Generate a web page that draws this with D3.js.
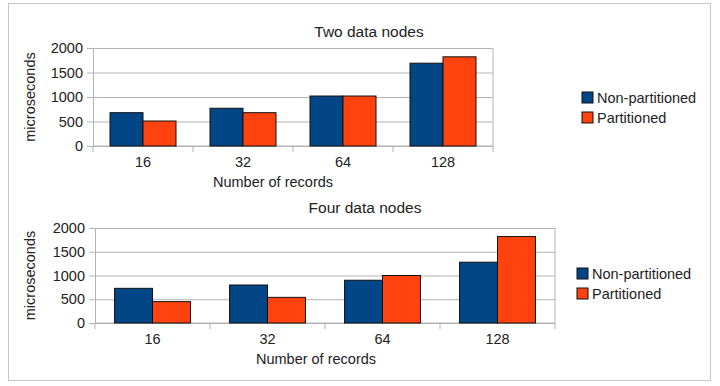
<html>
<head>
    <script src="https://d3js.org/d3.v7.min.js"></script>
    <style>
        body { margin: 0; background: #fff; }
        text { font-family: "Liberation Sans", Arial, sans-serif; fill: #222; }
        .gridlines line { stroke: #b3b3b3; }
        .gridlines .domain { stroke: none; }
    </style>
</head>
<body>
<svg id="chartArea" width="720" height="386"></svg>
<script>
    // data
    const categories = ["16", "32", "64", "128"];
    const seriesNames = ["Non-partitioned", "Partitioned"];
    const twoNodesNonPart = [680, 770, 1020, 1690];
    const twoNodesPart = [510, 680, 1020, 1820];
    const fourNodesNonPart = [730, 800, 900, 1280];
    const fourNodesPart = [450, 540, 1000, 1820];
    const yTicks = [0, 500, 1000, 1500, 2000];
    const colors = ["#004586", "#ff420e"];

    const svg = d3.select("#chartArea");

    // outer frame
    svg.append("rect")
        .attr("x", 8.5).attr("y", 3.5)
        .attr("width", 702).attr("height", 377)
        .attr("fill", "none").attr("stroke", "#c8c8c8");

    const colorScale = d3.scaleOrdinal().domain(seriesNames).range(colors);

    function drawChart(opts) {
        const rows = categories.map((c, i) => ({
            cat: c,
            values: [
                { name: seriesNames[0], value: opts.a[i] },
                { name: seriesNames[1], value: opts.b[i] }
            ]
        }));

        const g = svg.append("g")
            .attr("transform", `translate(${opts.left},${opts.top})`);

        const x = d3.scaleBand().domain(categories).range([0, opts.width]);
        const pad = x.bandwidth() * 0.17;
        const xs = d3.scaleBand().domain(seriesNames).range([pad, x.bandwidth() - pad]);
        const y = d3.scaleLinear().domain([0, 2000]).range([opts.height, 0]);

        // gridlines
        g.append("g")
            .attr("class", "gridlines")
            .call(d3.axisLeft(y).tickValues(yTicks).tickFormat("").tickSize(-opts.width));

        // right border of plot area
        g.append("line")
            .attr("x1", opts.width).attr("x2", opts.width)
            .attr("y1", 0).attr("y2", opts.height)
            .attr("stroke", "#b3b3b3");

        // y axis
        const yAxis = g.append("g")
            .call(d3.axisLeft(y).tickValues(yTicks).tickFormat(d3.format("d"))
                .tickSize(6).tickPadding(4).tickSizeOuter(0));
        yAxis.select(".domain").attr("stroke", "#b3b3b3");
        yAxis.selectAll(".tick line").attr("stroke", "#b3b3b3");
        yAxis.selectAll("text").style("font-size", "14.5px").attr("fill", "#222");

        // x axis line with ticks at band edges
        g.append("line")
            .attr("x1", 0).attr("x2", opts.width)
            .attr("y1", opts.height).attr("y2", opts.height)
            .attr("stroke", "#b3b3b3");
        const edges = categories.map(c => x(c)).concat([opts.width]);
        g.selectAll(".edge")
            .data(edges)
            .join("line")
            .attr("class", "edge")
            .attr("x1", d => d).attr("x2", d => d)
            .attr("y1", opts.height).attr("y2", opts.height + 6)
            .attr("stroke", "#b3b3b3");

        g.selectAll(".xlabel")
            .data(categories)
            .join("text")
            .attr("class", "xlabel")
            .attr("x", d => x(d) + x.bandwidth() / 2)
            .attr("y", opts.height + 21)
            .attr("text-anchor", "middle")
            .style("font-size", "14.5px")
            .text(d => d);

        // bars
        const groups = g.selectAll(".grp")
            .data(rows)
            .join("g")
            .attr("class", "grp")
            .attr("transform", d => `translate(${x(d.cat)},0)`);

        groups.selectAll("rect")
            .data(d => d.values)
            .join("rect")
            .attr("x", d => xs(d.name))
            .attr("y", d => y(d.value))
            .attr("width", xs.bandwidth())
            .attr("height", d => opts.height - y(d.value))
            .attr("fill", d => colorScale(d.name))
            .attr("stroke", "#111")
            .attr("stroke-width", 1);

        // titles
        svg.append("text")
            .attr("x", opts.titleX)
            .attr("y", opts.titleY)
            .attr("text-anchor", "middle")
            .style("font-size", "15.5px")
            .text(opts.title);

        svg.append("text")
            .attr("x", opts.xTitleX)
            .attr("y", opts.top + opts.height + 41)
            .attr("text-anchor", "middle")
            .style("font-size", "14.5px")
            .text("Number of records");

        svg.append("text")
            .attr("transform", `translate(35,${opts.top + opts.height / 2}) rotate(-90)`)
            .attr("text-anchor", "middle")
            .style("font-size", "14.5px")
            .text("microseconds");

        // legend
        const lg = svg.append("g")
            .attr("transform", `translate(${opts.legendX},${opts.legendY})`);
        const items = lg.selectAll("g")
            .data(seriesNames)
            .join("g")
            .attr("transform", (d, i) => `translate(0,${i * 20})`);
        items.append("rect")
            .attr("width", 11).attr("height", 11)
            .attr("fill", d => colorScale(d))
            .attr("stroke", "#111");
        items.append("text")
            .attr("x", 15)
            .attr("y", 10.5)
            .style("font-size", "14.5px")
            .text(d => d);
    }

    drawChart({
        title: "Two data nodes", a: twoNodesNonPart, b: twoNodesPart,
        left: 93, top: 48, width: 400, height: 98,
        titleX: 369, titleY: 37, xTitleX: 273,
        legendX: 582, legendY: 92
    });

    drawChart({
        title: "Four data nodes", a: fourNodesNonPart, b: fourNodesPart,
        left: 95, top: 228, width: 460, height: 95,
        titleX: 365, titleY: 213, xTitleX: 316,
        legendX: 577, legendY: 268
    });
</script>
</body>
</html>
